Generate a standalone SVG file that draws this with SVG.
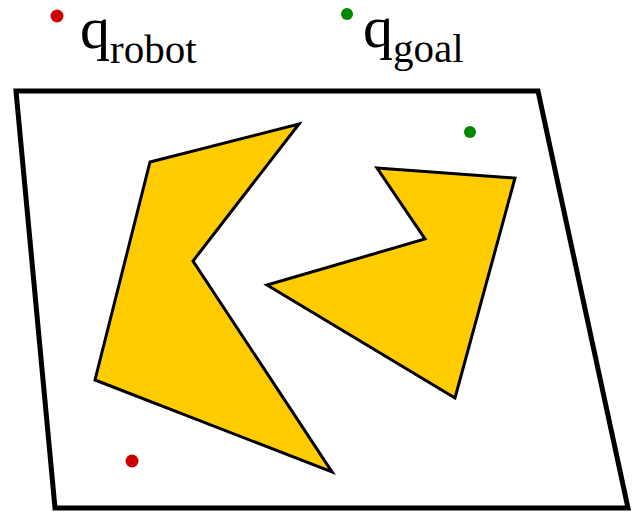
<svg xmlns="http://www.w3.org/2000/svg" width="633" height="513" viewBox="0 0 633 513">
<style>
.ob{fill:#FFCC00;stroke:#000;stroke-width:3;stroke-linejoin:miter}
</style>
<rect width="633" height="513" fill="#fff"/>
<g id="workspace"><polygon points="16,91 538,91 628,508 55,508" fill="#fff" stroke="#000" stroke-width="5"/></g>
<g id="obstacle1"><polygon class="ob" points="150,162 299,124 193,261 332,472 95,380"/></g>
<g id="obstacle2"><polygon class="ob" points="377,168 515,178 455,398 267,285 425,239"/></g>
<g id="robot"><circle cx="57" cy="16" r="6.5" fill="#CC0000"/><circle cx="132" cy="461" r="6.5" fill="#CC0000"/></g>
<g id="goal"><circle cx="347" cy="14" r="6" fill="#008800"/><circle cx="470" cy="132" r="6" fill="#008800"/></g>
<g id="labels" font-family="'Liberation Serif', 'DejaVu Serif', serif" fill="#000">
<text x="80" y="48" font-size="60">q<tspan font-size="41" dy="15">robot</tspan></text>
<text x="363" y="47" font-size="60">q<tspan font-size="41" dy="15">goal</tspan></text>
</g>
<g id="connectors"/>
</svg>
